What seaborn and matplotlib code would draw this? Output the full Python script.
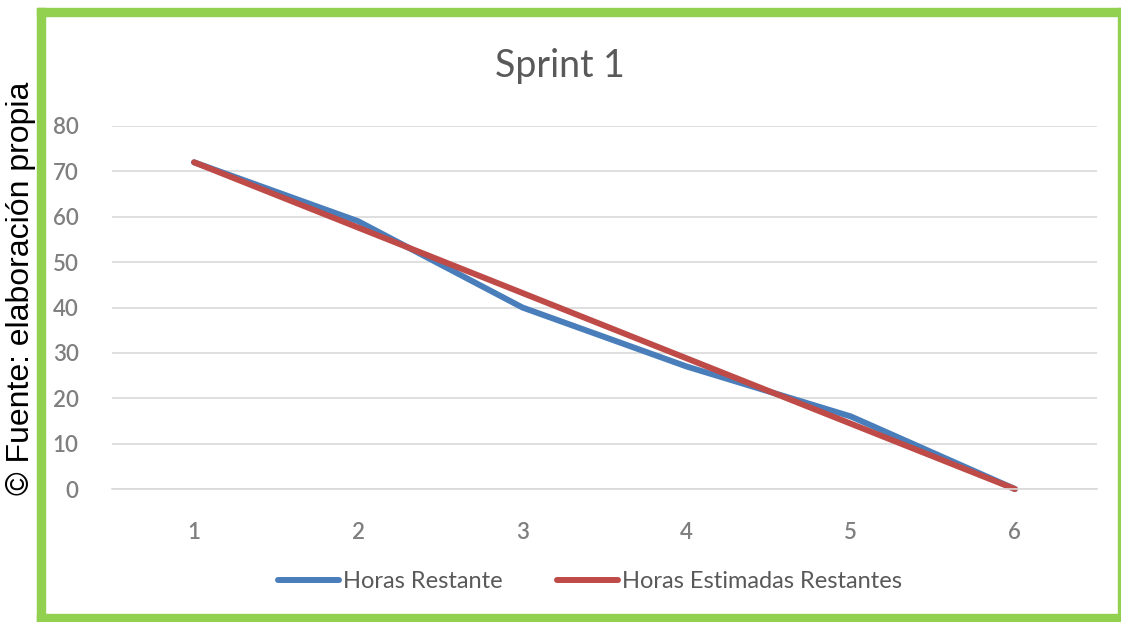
import matplotlib
matplotlib.use("Agg")
import matplotlib.pyplot as plt
from matplotlib.patches import Rectangle
import seaborn as sns
import pandas as pd

# Burndown data for Sprint 1
dias = [1, 2, 3, 4, 5, 6]
horas_restante = [72, 59, 40, 27, 16, 0]
horas_estimadas = [72, 57.6, 43.2, 28.8, 14.4, 0]
series_names = ["Horas Restante", "Horas Estimadas Restantes"]
y_ticks = [0, 10, 20, 30, 40, 50, 60, 70, 80]

df = pd.DataFrame({
    "dia": dias * 2,
    "horas": horas_restante + horas_estimadas,
    "serie": [series_names[0]] * len(dias) + [series_names[1]] * len(dias),
})

sns.set_theme(style="white")
plt.rcParams["font.family"] = ["Lato", "DejaVu Sans"]

W, H = 1121, 622
fig = plt.figure(figsize=(W / 100, H / 100), dpi=100)
fig.patch.set_facecolor("white")

# plot area in pixel coordinates
x0, x1 = 112, 1097
y_top, y_bot = 126, 489
ax = fig.add_axes([x0 / W, (H - y_bot) / H, (x1 - x0) / W, (y_bot - y_top) / H])

palette = {series_names[0]: "#4a7ebb", series_names[1]: "#be4b48"}
sns.lineplot(data=df, x="dia", y="horas", hue="serie", palette=palette,
             linewidth=4.3, ax=ax, legend=False, sort=False)
for ln in ax.lines:
    ln.set_solid_capstyle("round")
    ln.set_solid_joinstyle("round")
    ln.set_clip_on(False)

ax.set_xlim(0.5, 6.5)
ax.set_ylim(0, 80)
ax.set_yticks(y_ticks)
ax.set_xticks(dias)
ax.set_xticklabels([str(d) for d in dias])
ax.yaxis.grid(True, color="#d9d9d9", linewidth=1.2)
ax.set_axisbelow(True)
for side in ["top", "right", "left"]:
    ax.spines[side].set_visible(False)
ax.spines["bottom"].set_color("#d9d9d9")
ax.spines["bottom"].set_linewidth(1.2)
ax.tick_params(axis="both", length=0, labelsize=16, labelcolor="#7f7f7f")
ax.tick_params(axis="x", pad=24)
ax.tick_params(axis="y", pad=24)
for lbl in ax.get_xticklabels() + ax.get_yticklabels():
    lbl.set_fontweight("semibold")
ax.set_xlabel("")
ax.set_ylabel("")

fig.text(560 / W, 1 - 66 / H, "Sprint 1", ha="center", va="center",
         fontsize=27, color="#595959")

# legend below the plot
handles = [plt.Line2D([], [], color=palette[n], linewidth=4.3, solid_capstyle="round")
           for n in series_names]
fig.legend(handles, series_names, loc="center", bbox_to_anchor=(590 / W, 1 - 582 / H),
           ncol=2, frameon=False, fontsize=17, labelcolor="#595959",
           handlelength=2.6, handletextpad=0.15, columnspacing=2.3)

# green frame
green = "#92d050"
fig.patches.extend([
    Rectangle((37 / W, 0), 8 / W, 1 - 8 / H, transform=fig.transFigure, color=green, zorder=5),
    Rectangle((37 / W, 1 - 16 / H), (1121 - 37) / W, 8 / H, transform=fig.transFigure, color=green, zorder=5),
    Rectangle((37 / W, 0), (1121 - 37) / W, 8 / H, transform=fig.transFigure, color=green, zorder=5),
    Rectangle((1118 / W, 0), 3 / W, 1 - 8 / H, transform=fig.transFigure, color=green, zorder=5),
])

fig.text(21 / W, 1 - 288 / H, "© Fuente: elaboración propia", rotation=90,
         ha="center", va="center", fontsize=23, color="black",
         family=["Liberation Sans", "DejaVu Sans"])

fig.savefig("out.png", dpi=100, facecolor="white")
